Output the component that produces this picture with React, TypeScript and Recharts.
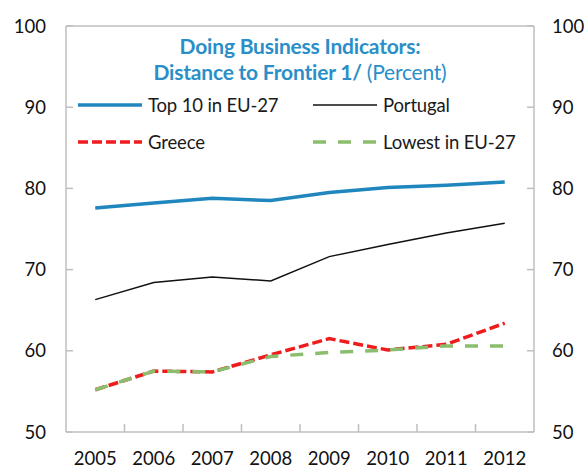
import React from 'react';
import { LineChart, Line, XAxis, YAxis, ReferenceLine, Legend } from 'recharts';

const years = [2005, 2006, 2007, 2008, 2009, 2010, 2011, 2012];
const top10 = [77.6, 78.2, 78.8, 78.5, 79.5, 80.1, 80.4, 80.8];
const portugal = [66.3, 68.4, 69.1, 68.6, 71.6, 73.1, 74.5, 75.7];
const greece = [55.2, 57.5, 57.4, 59.5, 61.5, 60.1, 60.8, 63.4];
const lowest = [55.2, 57.5, 57.4, 59.3, 59.8, 60.1, 60.6, 60.6];
const yTicks = [50, 60, 70, 80, 90, 100];
const xTicks = [2005, 2005.5, 2006, 2006.5, 2007, 2007.5, 2008, 2008.5, 2009, 2009.5, 2010, 2010.5, 2011, 2011.5, 2012];
const titleLine1 = 'Doing Business Indicators:';
const titleLine2 = 'Distance to Frontier 1/';
const titleUnit = '(Percent)';

const data = years.map((y, i) => ({
  year: y,
  top10: top10[i],
  portugal: portugal[i],
  greece: greece[i],
  lowest: lowest[i],
}));

const FONT = 'Lato, "Open Sans", sans-serif';
const AXIS = '#bfbfbf';
const BLUE = '#1f87bd';
const TITLE = '#2a8fc8';

const XTick = (props: any) => {
  const { x, y, payload } = props;
  const v = payload.value;
  if (Number.isInteger(v)) {
    return (
      <text x={x} y={y + 20} dy="0.72em" textAnchor="middle" fontSize={18.5} fontFamily={FONT} fill="#111">
        {v}
      </text>
    );
  }
  return <line x1={x} x2={x} y1={y - 8} y2={y} stroke={AXIS} strokeWidth={1.5} />;
};

const LegendContent = (props: any) => {
  const payload = props.payload || [];
  const order = ['top10', 'portugal', 'greece', 'lowest'];
  const items = order.map((k) => payload.find((p: any) => p.dataKey === k)).filter(Boolean);
  return (
    <div style={{ display: 'grid', gridTemplateColumns: '235px 230px', rowGap: 11, fontFamily: FONT }}>
      {items.map((p: any) => (
        <div key={p.dataKey} style={{ display: 'flex', alignItems: 'center', height: 26 }}>
          <svg width={64} height={8} style={{ marginRight: 6 }}>
            <line
              x1={0}
              x2={64}
              y1={4}
              y2={4}
              stroke={p.payload.stroke}
              strokeWidth={p.payload.strokeWidth}
              strokeDasharray={p.payload.strokeDasharray}
            />
          </svg>
          <span style={{ fontSize: 18.5, letterSpacing: -0.15, color: '#1a1a1a', whiteSpace: 'nowrap' }}>{p.value}</span>
        </div>
      ))}
    </div>
  );
};

export default function App() {
  return (
    <div style={{ position: 'absolute', left: 0, top: 0, width: 587, height: 469, background: '#fff' }}>
      <LineChart width={587} height={469} data={data} margin={{ top: 26, right: 0, bottom: 0, left: 0 }}>
        <XAxis
          dataKey="year"
          type="number"
          domain={[2004.5, 2012.5]}
          ticks={xTicks}
          interval={0}
          height={37}
          tickSize={0}
          tickMargin={0}
          tickLine={false}
          tick={<XTick />}
          axisLine={{ stroke: AXIS, strokeWidth: 1.5 }}
        />
        <YAxis
          yAxisId="left"
          orientation="left"
          domain={[50, 100]}
          ticks={yTicks}
          width={66}
          tickSize={-7}
          tickMargin={27}
          axisLine={{ stroke: AXIS, strokeWidth: 1.5 }}
          tickLine={{ stroke: AXIS, strokeWidth: 1.5 }}
          tick={{ fill: '#111', fontSize: 18.5, fontFamily: FONT }}
        />
        <YAxis
          yAxisId="right"
          orientation="right"
          domain={[50, 100]}
          ticks={yTicks}
          width={53}
          tickSize={-7}
          tickMargin={25}
          axisLine={{ stroke: AXIS, strokeWidth: 1.5 }}
          tickLine={{ stroke: AXIS, strokeWidth: 1.5 }}
          tick={{ fill: '#111', fontSize: 18.5, fontFamily: FONT }}
        />
        <ReferenceLine yAxisId="left" y={100} stroke={AXIS} strokeWidth={1.5} />
        <Legend
          layout="horizontal"
          verticalAlign="middle"
          align="center"
          content={<LegendContent />}
          wrapperStyle={{ position: 'absolute', left: 78, top: 92, width: 470, height: 80 }}
        />
        <Line
          yAxisId="left"
          dataKey="top10"
          name="Top 10 in EU-27"
          stroke={BLUE}
          strokeWidth={3.5}
          dot={false}
          isAnimationActive={false}
        />
        <Line
          yAxisId="right"
          dataKey="portugal"
          name="Portugal"
          stroke="#111"
          strokeWidth={1.5}
          dot={false}
          isAnimationActive={false}
        />
        <Line
          yAxisId="left"
          dataKey="greece"
          name="Greece"
          stroke="#ee1c1c"
          strokeWidth={3.5}
          strokeDasharray="10 4"
          dot={false}
          isAnimationActive={false}
        />
        <Line
          yAxisId="left"
          dataKey="lowest"
          name="Lowest in EU-27"
          stroke="#8bbd6e"
          strokeWidth={3.5}
          strokeDasharray="13 12"
          dot={false}
          isAnimationActive={false}
        />
      </LineChart>
      <div
        style={{
          position: 'absolute',
          left: 66,
          width: 468,
          top: 33,
          textAlign: 'center',
          color: TITLE,
          fontFamily: FONT,
          fontSize: 21,
          lineHeight: '26px',
          fontWeight: 700,
          letterSpacing: -0.2,
        }}
      >
        <div>{titleLine1}</div>
        <div>
          {titleLine2} <span style={{ fontWeight: 400 }}>{titleUnit}</span>
        </div>
      </div>
    </div>
  );
}
